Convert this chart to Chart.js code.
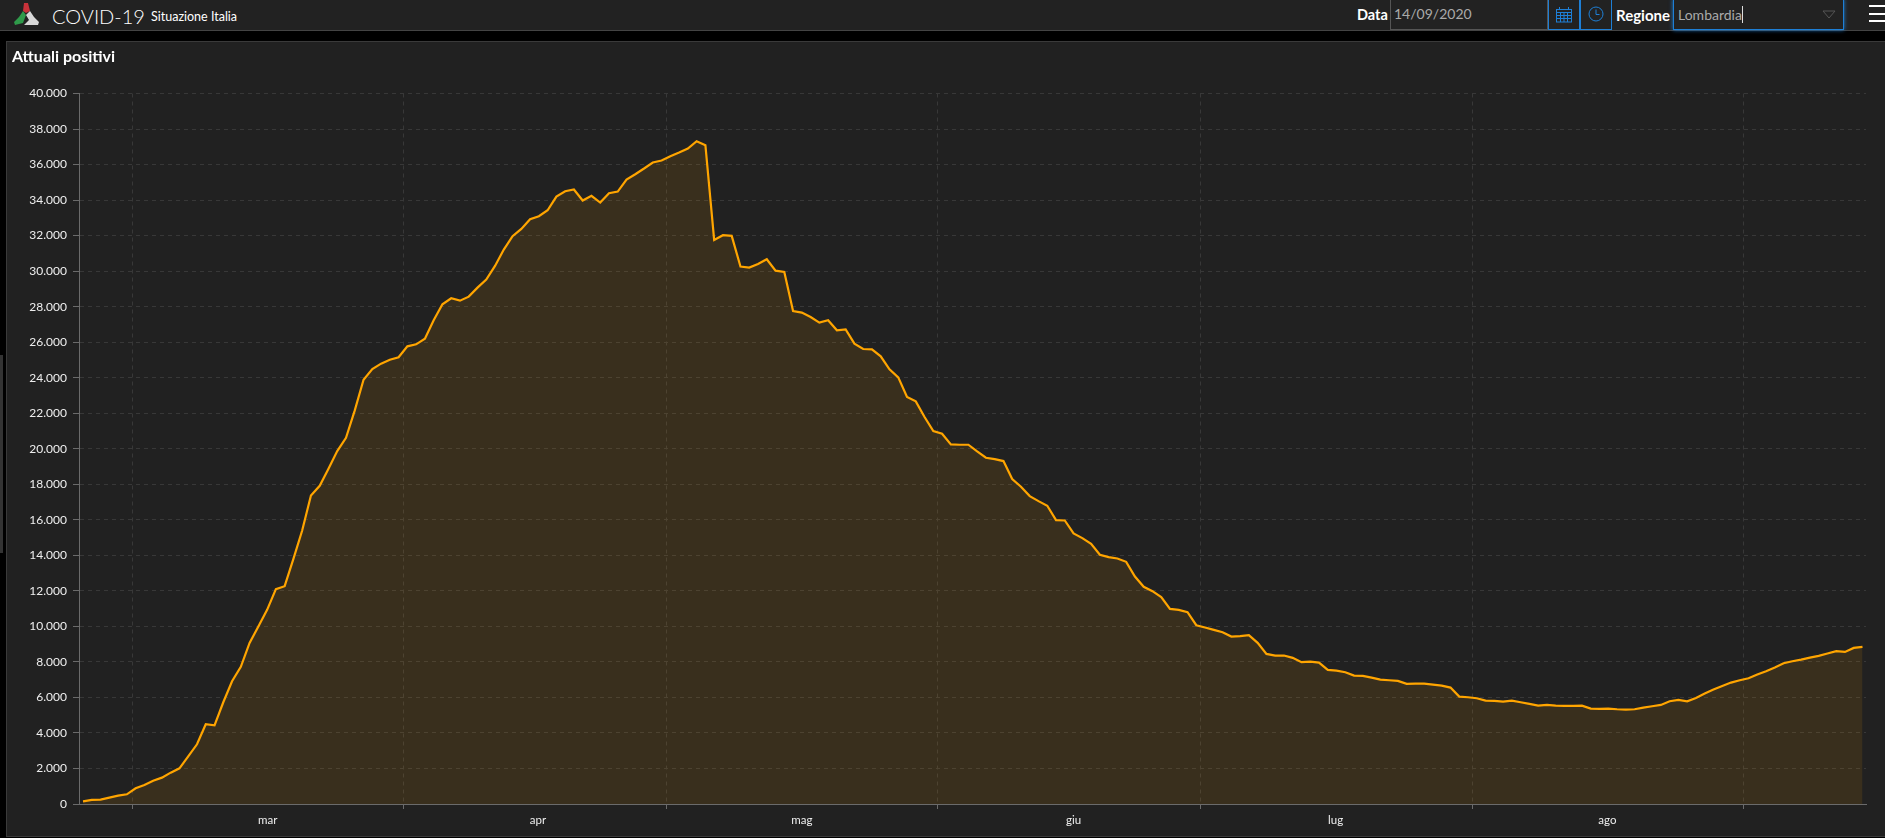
<!DOCTYPE html>
<html>
<head>
<meta charset="utf-8">
<title>COVID-19 Situazione Italia</title>
<script src="https://cdn.jsdelivr.net/npm/chart.js@4"></script>
<style>
  html, body { margin: 0; padding: 0; background: #000; overflow: hidden; }
  body { width: 1885px; height: 838px; position: relative; font-family: Lato, "Open Sans", sans-serif; color: #fff; }
  .abs { position: absolute; white-space: nowrap; }
  #header { left: 0; top: 0; width: 1885px; height: 30px; background: #222; border-bottom: 1px solid #444; }
  #panel { left: 6px; top: 41px; width: 1879px; height: 794px; background: #212121; border-top: 1px solid #3a3a3a; border-left: 1px solid #3a3a3a; border-bottom: 1px solid #3a3a3a; box-sizing: content-box; }
  #chart { position: absolute; left: 6px; top: 42px; }
  .box { box-sizing: border-box; height: 31px; top: -1px; }
  .blue { border: 1px solid #1e7fd6; }
</style>
</head>
<body>
<div class="abs" id="header"></div>
<svg class="abs" style="left:13px;top:2px" width="27" height="24" viewBox="0 0 27 24">
  <path d="M11 1 L15 1 L17 9 L13 11 L10 9 Z" fill="#c8323a"/>
  <path d="M10 9 L13 13 L10 21 L2 23 L1 20 L6 15 Z" fill="#2f9a4a"/>
  <path d="M17 9 L21 15 L26 20 L25 23 L11 23 L16 18 L13 13 Z" fill="#d8d8d8"/>
</svg>
<div class="abs" style="left:52px;top:4px;font-size:20px;font-weight:300">COVID-19</div>
<div class="abs" style="left:151px;top:9px;font-size:12.5px">Situazione Italia</div>

<div class="abs" style="left:1357px;top:6px;font-size:14.5px;font-weight:700">Data</div>
<div class="abs box" style="left:1390px;width:158px;border:1px solid #555;padding:5px 3px;font-size:14px;color:#aaa">14/09/2020</div>
<div class="abs box blue" style="left:1548px;width:32px"></div>
<svg class="abs" style="left:1555px;top:6px" width="18" height="17" viewBox="0 0 18 17" fill="none" stroke="#1e7fd6">
  <rect x="1.5" y="3.5" width="15" height="12.5"/>
  <path d="M1 6.5H17M1 9.5H17M1 12.5H17M5.5 6V16M9 6V16M12.5 6V16M4.5 1V4M13.5 1V4"/>
</svg>
<div class="abs box blue" style="left:1580px;width:32px"></div>
<svg class="abs" style="left:1588px;top:6px" width="16" height="16" viewBox="0 0 16 16" fill="none" stroke="#1e7fd6">
  <circle cx="8" cy="8" r="7"/><path d="M8 3.5V8.5H11.5"/>
</svg>
<div class="abs" style="left:1616px;top:6px;font-size:15px;font-weight:700">Regione</div>
<div class="abs box blue" style="left:1673px;width:171px;padding:6px 4px;font-size:14px;color:#aaa;box-shadow:0 0 4px #1e7fd6">Lombardia<span style="border-left:1px solid #ddd"> </span></div>
<svg class="abs" style="left:1822px;top:10px" width="14" height="9" viewBox="0 0 14 9" fill="none" stroke="#555">
  <path d="M1 1H13L7 8Z"/>
</svg>
<div class="abs" style="left:1869px;top:5px;width:16px;height:2px;background:#fff"></div>
<div class="abs" style="left:1869px;top:13px;width:16px;height:2px;background:#fff"></div>
<div class="abs" style="left:1869px;top:20px;width:16px;height:2px;background:#fff"></div>

<div class="abs" style="left:0;top:355px;width:3px;height:198px;background:#333"></div>
<div class="abs" id="panel"></div>
<div class="abs" style="left:12px;top:46px;font-size:16px;font-weight:700;z-index:2">Attuali positivi</div>
<canvas id="chart" width="1879" height="794"></canvas>

<script>
// attuali positivi Lombardia, one value per day from 24 feb to 14 set 2020
const values = [
  150, 231, 249, 357, 470, 545, 883, 1070, 1315, 1484,
  1765, 2009, 2685, 3362, 4488, 4432, 5728, 6911, 7719, 9071,
  9991, 10930, 12094, 12263, 13803, 15400, 17371, 17916, 18874, 19869,
  20620, 22160, 23888, 24489, 24790, 25015, 25150, 25766, 25879, 26190,
  27231, 28132, 28470, 28339, 28564, 29071, 29522, 30292, 31212, 31964,
  32377, 32921, 33090, 33428, 34198, 34499, 34593, 33973, 34236, 33860,
  34386, 34480, 35156, 35457, 35776, 36114, 36227, 36471, 36677, 36902,
  37315, 37090, 31757, 32020, 31983, 30255, 30198, 30405, 30668, 30029,
  29954, 27757, 27663, 27419, 27100, 27231, 26668, 26724, 25916, 25616,
  25597, 25203, 24470, 24020, 22912, 22667, 21785, 20996, 20846, 20245,
  20226, 20226, 19850, 19494, 19418, 19306, 18292, 17860, 17334, 17052,
  16789, 15982, 15963, 15231, 14968, 14648, 14029, 13897, 13822, 13634,
  12808, 12226, 11982, 11644, 10986, 10930, 10799, 10066, 9935, 9803,
  9672, 9428, 9446, 9503, 9071, 8451, 8357, 8357, 8226, 7982,
  8019, 7963, 7550, 7512, 7418, 7230, 7212, 7118, 7005, 6967,
  6930, 6761, 6780, 6780, 6723, 6667, 6554, 6047, 6010, 5953,
  5822, 5803, 5765, 5822, 5728, 5634, 5540, 5578, 5540, 5521,
  5521, 5540, 5371, 5352, 5371, 5334, 5315, 5334, 5428, 5503,
  5578, 5784, 5859, 5784, 5972, 6216, 6442, 6648, 6836, 6967,
  7080, 7287, 7474, 7681, 7925, 8038, 8132, 8244, 8338, 8470,
  8601, 8563, 8789, 8845
];
const days = values.map((v, i) => i);

// month boundaries and label spots, in days from the first point
const monthStarts = [5.6, 36.55, 66.55, 97.45, 127.45, 158.5, 189.4];
const monthNames = ['mar', 'apr', 'mag', 'giu', 'lug', 'ago'];
const monthMiddles = [21.07, 51.9, 82.0, 113.0, 142.9, 173.9];

const gridColor = '#383838';
const axisColor = '#6b6b6b';

new Chart(document.getElementById('chart').getContext('2d'), {
  type: 'line',
  data: {
    datasets: [{
      label: 'Attuali positivi',
      data: days.map((d, i) => ({ x: d, y: values[i] })),
      borderColor: '#ffa500',
      borderWidth: 2.2,
      backgroundColor: 'rgba(255,165,0,0.11)',
      fill: 'origin',
      pointRadius: 0,
      tension: 0
    }]
  },
  options: {
    responsive: false,
    animation: false,
    layout: { padding: { left: 0, top: 51.5, right: 19, bottom: 0 } },
    plugins: { legend: { display: false }, tooltip: { enabled: false }, title: { display: false } },
    scales: {
      x: {
        type: 'linear',
        min: -0.46,
        max: 203.4,
        afterBuildTicks: (scale) => {
          const all = monthStarts.concat(monthMiddles).sort((a, b) => a - b);
          scale.ticks = all.map((v) => ({ value: v }));
        },
        afterFit: (scale) => { scale.height = 32; },
        border: { color: axisColor, dash: [4, 4] },
        grid: {
          color: (c) => (c.tick && monthStarts.includes(c.tick.value) ? gridColor : 'transparent'),
          tickColor: (c) => (c.tick && monthStarts.includes(c.tick.value) ? axisColor : 'transparent'),
          tickBorderDash: [],
          tickLength: 5
        },
        ticks: {
          autoSkip: false,
          maxRotation: 0,
          padding: 4,
          color: '#eeeeee',
          font: { family: 'Lato', size: 11.5 },
          callback: (v) => {
            const i = monthMiddles.indexOf(v);
            return i >= 0 ? monthNames[i] : '';
          }
        }
      },
      y: {
        min: 0,
        max: 40000,
        afterFit: (scale) => { scale.width = 73; },
        border: { color: axisColor, dash: [4, 4] },
        grid: {
          color: gridColor,
          tickColor: axisColor,
          tickBorderDash: [],
          tickLength: 6
        },
        ticks: {
          stepSize: 2000,
          padding: 6,
          color: '#eeeeee',
          font: { family: 'Lato', size: 12 },
          callback: (v) => v.toLocaleString('it-IT', { useGrouping: true }).replace(/(\d)(\d{3})$/, '$1.$2')
        }
      }
    }
  }
});
</script>
</body>
</html>
